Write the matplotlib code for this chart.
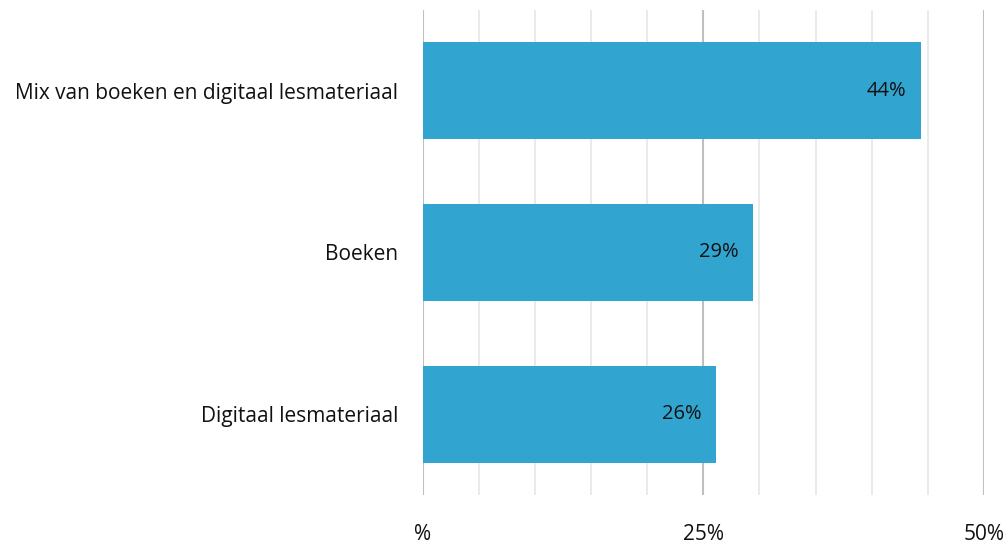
import matplotlib.pyplot as plt
from matplotlib.ticker import MultipleLocator

# Data
categories = ['Mix van boeken en digitaal lesmateriaal', 'Boeken', 'Digitaal lesmateriaal']
values = [44.4, 29.4, 26.1]
value_labels = ['44%', '29%', '26%']
tick_values = [0, 25, 50]
tick_labels = ['%', '25%', '50%']

plt.rcParams['font.family'] = ['Open Sans', 'DejaVu Sans']

fig = plt.figure(figsize=(10.07, 5.45), dpi=100)
ax = fig.add_axes([0.42, 0.092, 0.557, 0.89])

ypos = list(range(len(categories)))
bars = ax.barh(ypos, values, height=0.6, color='#31A5D0', zorder=3)

for bar, lab in zip(bars, value_labels):
    ax.text(bar.get_width() - 1.3, bar.get_y() + bar.get_height() / 2, lab,
            ha='right', va='center', fontsize=14.5, color='#111111', zorder=4)

ax.set_xlim(0, 50)
ax.set_ylim(2.5, -0.5)
ax.set_yticks(ypos)
ax.set_yticklabels(categories, fontsize=15, color='#111111')
ax.set_xticks(tick_values)
ax.set_xticklabels(tick_labels, fontsize=15, color='#111111')
ax.xaxis.set_minor_locator(MultipleLocator(5))

ax.grid(axis='x', which='major', color='#BFBFBF', linewidth=1.5, zorder=0)
ax.grid(axis='x', which='minor', color='#E6E6E6', linewidth=1.2, zorder=0)
ax.tick_params(axis='both', which='both', length=0)
ax.tick_params(axis='x', pad=21)
ax.tick_params(axis='y', pad=18)
for s in ax.spines.values():
    s.set_visible(False)

fig.savefig('out.png', dpi=100)
